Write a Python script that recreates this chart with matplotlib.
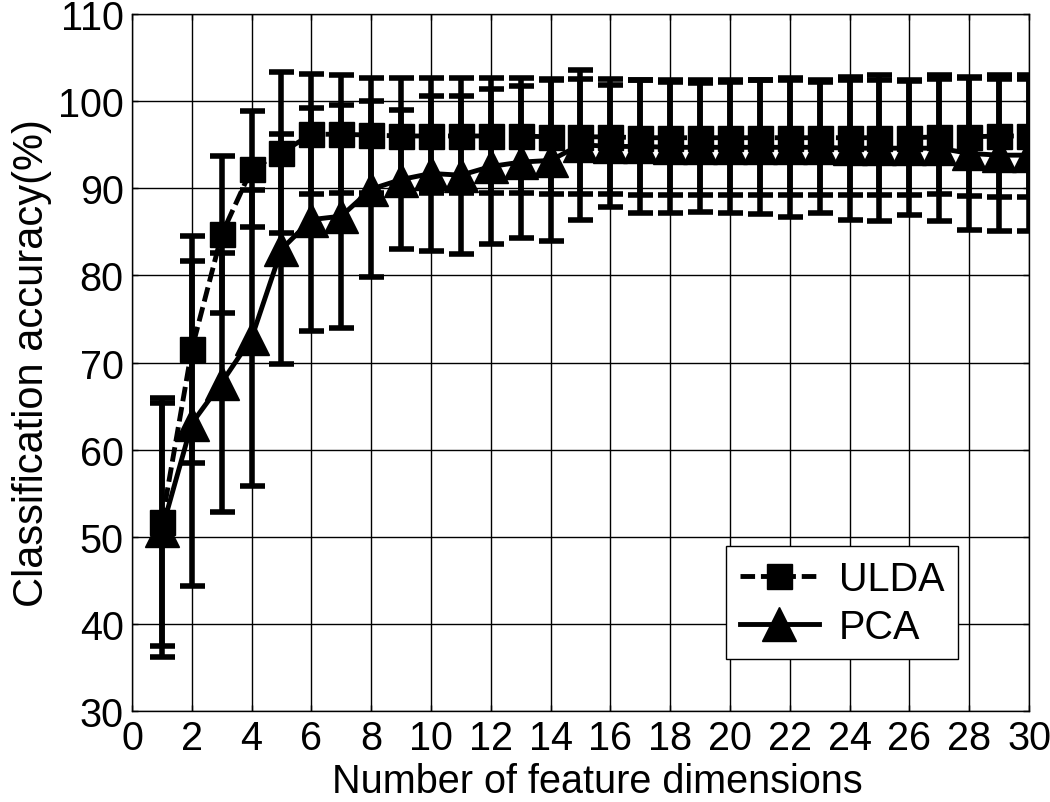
import numpy as np
import matplotlib
matplotlib.use("Agg")
import matplotlib.pyplot as plt

# dados
dims = list(range(1, 31))

ulda_media = [51.7, 71.5, 84.7, 92.2, 94.1, 96.2, 96.2, 96.1, 96.0, 96.0,
              96.0, 96.0, 96.0, 95.9, 95.9, 95.9, 95.8, 95.8, 95.8, 95.8,
              95.8, 95.8, 95.8, 95.8, 95.8, 95.8, 95.9, 95.9, 96.0, 96.0]
ulda_erro = [14.2, 13.0, 9.0, 6.7, 9.2, 6.9, 6.8, 6.6, 6.6, 6.6,
             6.6, 6.6, 6.6, 6.6, 6.6, 6.6, 6.6, 6.6, 6.6, 6.6,
             6.6, 6.6, 6.6, 6.6, 6.6, 6.6, 6.6, 6.8, 7.0, 7.0]

pca_media = [50.8, 63.0, 67.7, 72.8, 83.0, 86.4, 86.8, 89.9, 91.0, 91.7,
             91.5, 92.5, 93.0, 93.2, 95.0, 94.8, 94.8, 94.7, 94.7, 94.7,
             94.7, 94.7, 94.7, 94.6, 94.6, 94.6, 94.6, 94.0, 93.8, 93.8]
pca_erro = [14.6, 18.6, 14.9, 17.0, 13.2, 12.8, 12.8, 10.1, 8.0, 8.9,
            9.1, 8.9, 8.7, 9.2, 8.6, 7.0, 7.6, 7.5, 7.4, 7.5,
            7.7, 8.0, 7.5, 8.2, 8.4, 7.7, 8.4, 8.8, 8.7, 8.7]

plt.rcParams["font.family"] = ["Liberation Sans", "DejaVu Sans"]
FS = 28.5

fig = plt.figure(figsize=(10.5, 8.03), dpi=100)
ax = fig.add_axes([0.1257, 0.1133, 0.8543, 0.868])

kw = dict(color="black", ecolor="black", elinewidth=4, capsize=9,
          capthick=4, lw=3.5, markerfacecolor="black",
          markeredgecolor="black")
e1 = ax.errorbar(dims, ulda_media, yerr=ulda_erro, fmt="s", ls="--",
                 markersize=18, dashes=(3, 1.2), zorder=3, **kw)
e2 = ax.errorbar(dims, pca_media, yerr=pca_erro, fmt="^", ls="-",
                 markersize=24, zorder=3, **kw)

ax.set_xlim(0, 30)
ax.set_ylim(30, 110)
ax.set_xticks(range(0, 31, 2))
ax.set_yticks(range(30, 111, 10))
ax.grid(True, color="black", lw=1.0, ls="-")
ax.set_axisbelow(True)
ax.tick_params(direction="in", length=4, width=1, top=True, right=True,
               labelsize=FS, pad=6)
for s in ax.spines.values():
    s.set_linewidth(1.0)

ax.set_xlabel("Number of feature dimensions", fontsize=FS, labelpad=3)
ax.xaxis.label.set_x(0.519)
ax.set_ylabel("Classification accuracy(%)", fontsize=30, labelpad=4)

leg = ax.legend([e1[0], e2[0]], ["ULDA", "PCA"], loc="lower left",
                bbox_to_anchor=(0.662, 0.074), borderaxespad=0,
                fontsize=FS, fancybox=False, framealpha=1,
                edgecolor="black", handlelength=2.0, borderpad=0.35,
                labelspacing=0.25, handletextpad=0.5)
leg.get_frame().set_linewidth(1.0)

fig.savefig("out.png", dpi=100)
